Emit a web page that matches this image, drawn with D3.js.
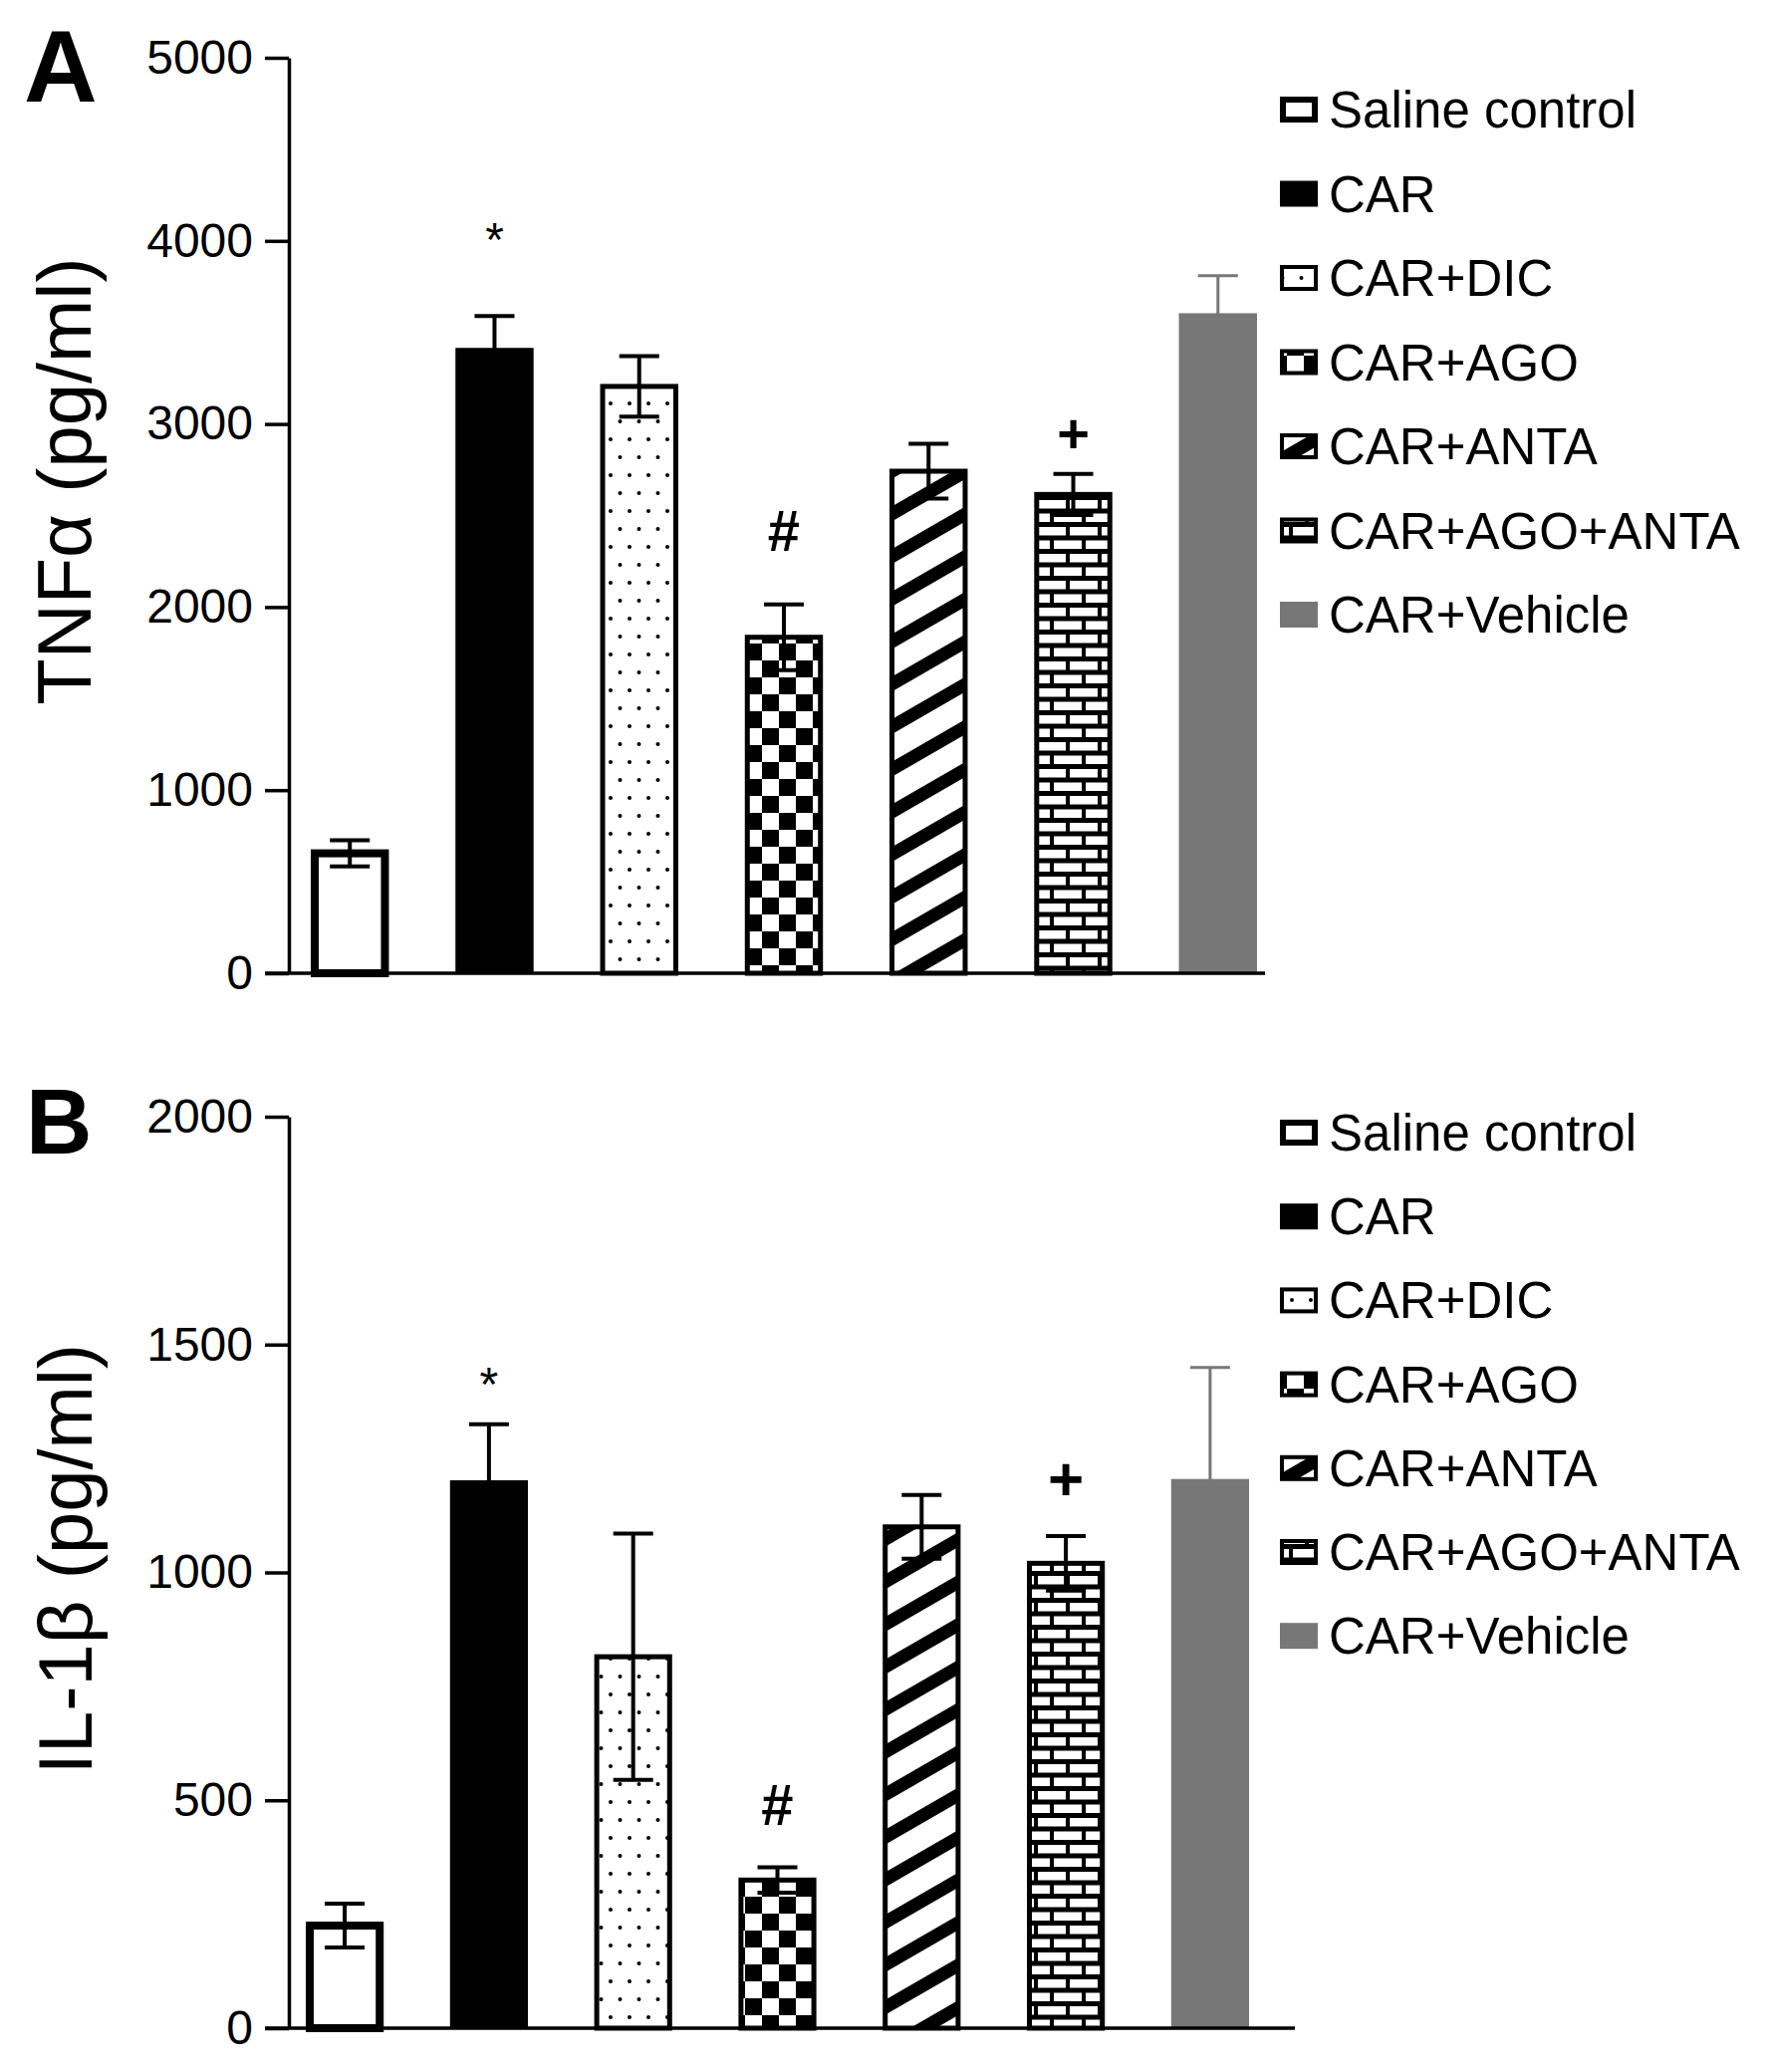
<!DOCTYPE html>
<html><head><meta charset="utf-8">
<script src="https://cdn.jsdelivr.net/npm/d3@7"></script>
<style>body{margin:0;background:#fff}</style>
</head><body>
<svg id="chart" width="1772" height="2080" xmlns="http://www.w3.org/2000/svg"></svg>
<script>
// ---------- data ----------
const categories = ["Saline control","CAR","CAR+DIC","CAR+AGO","CAR+ANTA","CAR+AGO+ANTA","CAR+Vehicle"];
const tnfMean  = [655, 3410, 3205, 1835, 2742, 2615, 3605];
const tnfSem   = [72, 180, 165, 180, 150, 112, 205];
const il1bMean = [225, 1200, 815, 325, 1100, 1020, 1205];
const il1bSem  = [48, 125, 270, 28, 70, 60, 245];
const tnfTicks  = [0, 1000, 2000, 3000, 4000, 5000];
const il1bTicks = [0, 500, 1000, 1500, 2000];
const tnfSig  = [{cat:"CAR", sym:"*"}, {cat:"CAR+AGO", sym:"#"}, {cat:"CAR+AGO+ANTA", sym:"+"}];
const il1bSig = [{cat:"CAR", sym:"*"}, {cat:"CAR+AGO", sym:"#"}, {cat:"CAR+AGO+ANTA", sym:"+"}];

// ---------- style ----------
const FONT = "'Liberation Sans', Arial, Helvetica, sans-serif";
const GREY = "#777777";
const svg = d3.select("#chart");
const defs = svg.append("defs");

// dots
const pDots = defs.append("pattern").attr("id","dots").attr("patternUnits","userSpaceOnUse")
  .attr("width",19).attr("height",36);
pDots.append("rect").attr("width",19).attr("height",36).attr("fill","#fff");
pDots.append("circle").attr("cx",5).attr("cy",9).attr("r",2).attr("fill","#000");
pDots.append("circle").attr("cx",14.5).attr("cy",27).attr("r",2).attr("fill","#000");
// checks
const pChk = defs.append("pattern").attr("id","check").attr("patternUnits","userSpaceOnUse")
  .attr("width",34).attr("height",34);
pChk.append("rect").attr("width",34).attr("height",34).attr("fill","#fff");
pChk.append("rect").attr("width",17).attr("height",17).attr("fill","#000");
pChk.append("rect").attr("x",17).attr("y",17).attr("width",17).attr("height",17).attr("fill","#000");
// diagonal stripes
const pDiag = defs.append("pattern").attr("id","diag").attr("patternUnits","userSpaceOnUse")
  .attr("width",37).attr("height",37).attr("patternTransform","rotate(-30)");
pDiag.append("rect").attr("width",37).attr("height",37).attr("fill","#fff");
pDiag.append("rect").attr("width",37).attr("height",13).attr("fill","#000");
// bricks
const pBrick = defs.append("pattern").attr("id","brick").attr("patternUnits","userSpaceOnUse")
  .attr("width",32).attr("height",27);
pBrick.append("rect").attr("width",32).attr("height",27).attr("fill","#000");
pBrick.append("rect").attr("x",2).attr("y",2.5).attr("width",28).attr("height",8.5).attr("fill","#fff");
pBrick.append("rect").attr("x",18).attr("y",16).attr("width",14).attr("height",8.5).attr("fill","#fff");
pBrick.append("rect").attr("x",0).attr("y",16).attr("width",14).attr("height",8.5).attr("fill","#fff");

const barStyle = [
  {fill:"#fff", stroke:"#000", sw:8, err:"#000", legSw:6},
  {fill:"#000", stroke:"#000", sw:2, err:"#000", legSw:2},
  {fill:"url(#dots)", stroke:"#000", sw:5, err:"#000", legSw:4},
  {fill:"url(#check)", stroke:"#000", sw:5, err:"#000", legSw:4},
  {fill:"url(#diag)", stroke:"#000", sw:5, err:"#000", legSw:4},
  {fill:"url(#brick)", stroke:"#000", sw:5, err:"#000", legSw:4},
  {fill:GREY, stroke:"none", sw:0, err:GREY, legSw:0}
];

function drawPanel(cfg) {
  const g = svg.append("g");
  const x = d3.scaleBand().domain(categories).range(cfg.xRange).paddingInner(0.46).paddingOuter(0);
  const y = d3.scaleLinear().domain([0, cfg.ticks[cfg.ticks.length-1]]).range([cfg.bottom, cfg.top]);
  const rows = categories.map((c,i)=>({cat:c, mean:cfg.mean[i], sem:cfg.sem[i], st:barStyle[i]}));

  // bars
  g.selectAll("rect.bar").data(rows).join("rect").attr("class","bar")
    .attr("x", d => x(d.cat) + d.st.sw/2)
    .attr("width", d => x.bandwidth() - d.st.sw)
    .attr("y", d => y(d.mean))
    .attr("height", d => y(0) - y(d.mean))
    .attr("fill", d => d.st.fill)
    .attr("stroke", d => d.st.stroke)
    .attr("stroke-width", d => d.st.sw);

  // error bars
  const capW = 40;
  const eg = g.selectAll("g.err").data(rows).join("g").attr("class","err")
    .attr("stroke", d => d.st.err)
    .attr("stroke-width", d => d.cat === "CAR+Vehicle" ? 3 : 4);
  eg.append("line")
    .attr("x1", d => x(d.cat) + x.bandwidth()/2).attr("x2", d => x(d.cat) + x.bandwidth()/2)
    .attr("y1", d => y(d.mean - d.sem)).attr("y2", d => y(d.mean + d.sem));
  eg.append("line")
    .attr("x1", d => x(d.cat) + x.bandwidth()/2 - capW/2).attr("x2", d => x(d.cat) + x.bandwidth()/2 + capW/2)
    .attr("y1", d => y(d.mean + d.sem)).attr("y2", d => y(d.mean + d.sem));
  eg.append("line")
    .attr("x1", d => x(d.cat) + x.bandwidth()/2 - capW/2).attr("x2", d => x(d.cat) + x.bandwidth()/2 + capW/2)
    .attr("y1", d => y(d.mean - d.sem)).attr("y2", d => y(d.mean - d.sem));

  // y axis
  const ax = g.append("g").attr("transform", `translate(${cfg.axisX},0)`)
    .call(d3.axisLeft(y).tickValues(cfg.ticks).tickSize(24).tickSizeOuter(0).tickPadding(12).tickFormat(d3.format("d")));
  ax.select(".domain").attr("stroke","#000").attr("stroke-width",3.5);
  ax.selectAll(".tick line").attr("stroke","#000").attr("stroke-width",3.5);
  ax.selectAll(".tick text").attr("font-family",FONT).attr("font-size",48).attr("fill","#000");

  // x baseline
  g.append("line").attr("x1", cfg.axisX - 24).attr("x2", cfg.axisEnd)
    .attr("y1", y(0)).attr("y2", y(0)).attr("stroke","#000").attr("stroke-width",3.5);

  // y label
  g.append("text").attr("transform", `translate(${cfg.labelX},${cfg.labelY}) rotate(-90)`)
    .attr("text-anchor","middle").attr("font-family",FONT).attr("font-size",76).attr("fill","#000")
    .text(cfg.label);

  // panel letter
  g.append("text").attr("x", cfg.letterX).attr("y", cfg.letterY)
    .attr("font-family",FONT).attr("font-weight","bold").attr("font-size",cfg.letterSize).attr("fill","#000")
    .text(cfg.letter);

  // significance marks
  cfg.sig.forEach(s => {
    const i = categories.indexOf(s.cat);
    const top = y(cfg.mean[i] + cfg.sem[i]);
    const o = cfg.symStyle[s.sym];
    g.append("text").attr("x", x(s.cat) + x.bandwidth()/2).attr("y", top - o.off)
      .attr("text-anchor","middle").attr("font-family",FONT).attr("font-size",o.size)
      .attr("font-weight",o.weight).attr("fill","#000").text(s.sym);
  });

  // legend
  const lg = g.append("g");
  categories.forEach((c,i) => {
    const cy = cfg.legendTop + i*cfg.legendStep;
    const st = barStyle[i];
    lg.append("rect").attr("x", 1285 + st.legSw/2).attr("y", cy - 13 + st.legSw/2)
      .attr("width", 38 - st.legSw).attr("height", 26 - st.legSw)
      .attr("fill", st.fill).attr("stroke", st.stroke).attr("stroke-width", st.legSw);
    lg.append("text").attr("x", 1334).attr("y", cy + 18)
      .attr("font-family",FONT).attr("font-size",51).attr("fill","#000").text(c);
  });
}

drawPanel({
  mean: tnfMean, sem: tnfSem, ticks: tnfTicks, sig: tnfSig,
  top: 58, bottom: 977, axisX: 290, axisEnd: 1270, xRange: [312, 1262],
  label: "TNFα (pg/ml)", labelX: 91, labelY: 483,
  letter: "A", letterX: 24, letterY: 102, letterSize: 102,
  legendTop: 110, legendStep: 84.5,
  symStyle: {"*": {off: 60, size: 48, weight: "normal"}, "#": {off: 54, size: 58, weight: "bold"}, "+": {off: 22, size: 56, weight: "bold"}}
});
drawPanel({
  mean: il1bMean, sem: il1bSem, ticks: il1bTicks, sig: il1bSig,
  top: 1121, bottom: 2036, axisX: 290, axisEnd: 1300, xRange: [307, 1254],
  label: "IL-1β (pg/ml)", labelX: 92, labelY: 1565,
  letter: "B", letterX: 26, letterY: 1158, letterSize: 92,
  legendTop: 1137, legendStep: 84.2,
  symStyle: {"*": {off: 24, size: 48, weight: "normal"}, "#": {off: 43, size: 58, weight: "bold"}, "+": {off: 36, size: 62, weight: "bold"}}
});
</script>
</body></html>
